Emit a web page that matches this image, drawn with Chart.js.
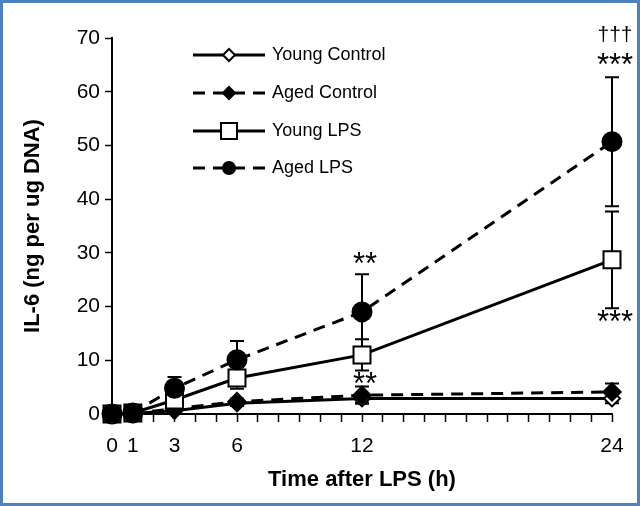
<!DOCTYPE html>
<html>
<head>
<meta charset="utf-8">
<script src="https://cdn.jsdelivr.net/npm/chart.js@4"></script>
<style>
  html, body { margin: 0; padding: 0; background: #fff; }
  #wrap { width: 640px; height: 506px; position: relative; }
</style>
</head>
<body>
<div id="wrap"><canvas id="il6" width="640" height="506"></canvas></div>
<script>
// time points (h)
const hours = [0, 1, 3, 6, 12, 24];
const tickHours = [0, 1, 3, 6, 12, 24];

// means, ng per ug DNA
const youngControl = [0, 0.1, 0.6, 2.0, 2.9, 2.9];
const agedControl = [0, 0.1, 1.0, 2.3, 3.5, 4.1];
const youngLPS = [0, 0.2, 2.6, 6.7, 11.0, 28.7];
const agedLPS = [0, 0.2, 4.8, 10.1, 19.0, 50.7];

// error (SEM)
const youngControlErr = [0, 0, 0.3, 0.5, 0.8, 0.9];
const agedControlErr = [0, 0, 0.4, 0.6, 1.6, 1.6];
const youngLPSErr = [0, 0.1, 1.5, 2.0, 2.9, 9.0];
const agedLPSErr = [0, 0.1, 2.1, 3.5, 7.0, 12.0];

// significance marks: [hour, value, text]
const marks = [
  [24, 70.6, '\u2020\u2020\u2020'],
  [24, 66.4, '***'],
  [12, 29.4, '**'],
  [12, 7.0, '**'],
  [24, 18.6, '***']
];

const toXY = (vals) => vals.map((v, i) => ({ x: hours[i], y: v }));

const errorBars = {
  id: 'errorBars',
  beforeDatasetsDraw(chart) {
    const { ctx, scales: { x, y } } = chart;
    ctx.save();
    ctx.strokeStyle = '#000';
    ctx.lineWidth = 2;
    chart.data.datasets.forEach((ds) => {
      ds.err.forEach((e, i) => {
        if (!e) return;
        const px = x.getPixelForValue(hours[i]);
        const top = y.getPixelForValue(ds.data[i].y + e);
        const bot = y.getPixelForValue(ds.data[i].y - e);
        ctx.beginPath();
        ctx.moveTo(px, top); ctx.lineTo(px, bot);
        ctx.moveTo(px - 7, top); ctx.lineTo(px + 7, top);
        ctx.moveTo(px - 7, bot); ctx.lineTo(px + 7, bot);
        ctx.stroke();
      });
    });
    ctx.restore();
  }
};

function drawMarker(ctx, style, cx, cy, r) {
  if (style === 'rect') {
    ctx.rect(cx - r, cy - r, 2 * r, 2 * r);
  } else if (style === 'rectRot') {
    ctx.moveTo(cx, cy - r); ctx.lineTo(cx + r, cy);
    ctx.lineTo(cx, cy + r); ctx.lineTo(cx - r, cy); ctx.closePath();
  } else {
    ctx.arc(cx, cy, r, 0, Math.PI * 2);
  }
}

const extras = {
  id: 'extras',
  afterDraw(chart) {
    const { ctx, scales: { x, y } } = chart;
    ctx.save();
    // significance marks
    ctx.fillStyle = '#000';
    ctx.textAlign = 'center';
    marks.forEach(([h, v, t]) => {
      const px = x.getPixelForValue(h) + 3;
      const py = y.getPixelForValue(v);
      if (t.startsWith('*')) {
        ctx.font = '31px "Liberation Sans", Arial, sans-serif';
        ctx.textBaseline = 'alphabetic';
        ctx.fillText(t, px, py + 18);
      } else {
        ctx.font = '21px "Liberation Sans", Arial, sans-serif';
        ctx.textBaseline = 'middle';
        ctx.fillText(t, px, py);
      }
    });

    // legend
    const rows = [55, 93, 131, 168];
    ctx.textAlign = 'left';
    ctx.textBaseline = 'middle';
    ctx.font = '18px "Liberation Sans", Arial, sans-serif';
    const legendOrder = [3, 2, 1, 0];
    legendOrder.forEach((di, r) => {
      const ds = chart.data.datasets[di];
      const ly = rows[r];
      ctx.strokeStyle = '#000';
      ctx.lineWidth = 3;
      ctx.setLineDash(ds.borderDash || []);
      ctx.beginPath();
      ctx.moveTo(193, ly); ctx.lineTo(265, ly);
      ctx.stroke();
      ctx.setLineDash([]);
      ctx.fillStyle = ds.pointBackgroundColor;
      ctx.lineWidth = 2;
      ctx.beginPath();
      drawMarker(ctx, ds.pointStyle, 229, ly, ds.pointStyle === 'rect' ? 8 : 6);
      ctx.fill(); ctx.stroke();
      ctx.fillStyle = '#000';
      ctx.fillText(ds.label, 272, ly);
    });

    // frame
    ctx.strokeStyle = '#4f81bd';
    ctx.lineWidth = 3;
    ctx.strokeRect(1.5, 1.5, chart.width - 3, chart.height - 3);
    ctx.restore();
  }
};

const font = '"Liberation Sans", Arial, sans-serif';

new Chart(document.getElementById('il6'), {
  type: 'line',
  data: {
    datasets: [
      {
        label: 'Aged LPS', data: toXY(agedLPS), err: agedLPSErr, order: 1, clip: false,
        borderColor: '#000', borderWidth: 3, borderDash: [12, 8],
        pointStyle: 'circle', pointRadius: 9, pointBackgroundColor: '#000', pointBorderColor: '#000'
      },
      {
        label: 'Young LPS', data: toXY(youngLPS), err: youngLPSErr, order: 2, clip: false,
        borderColor: '#000', borderWidth: 3,
        pointStyle: 'rect', pointRadius: 12, pointBackgroundColor: '#fff', pointBorderColor: '#000', pointBorderWidth: 2
      },
      {
        label: 'Aged Control', data: toXY(agedControl), err: agedControlErr, order: 3, clip: false,
        borderColor: '#000', borderWidth: 3, borderDash: [12, 8],
        pointStyle: 'rectRot', pointRadius: 8, pointBackgroundColor: '#000', pointBorderColor: '#000'
      },
      {
        label: 'Young Control', data: toXY(youngControl), err: youngControlErr, order: 4, clip: false,
        borderColor: '#000', borderWidth: 3,
        pointStyle: 'rectRot', pointRadius: 8, pointBackgroundColor: '#fff', pointBorderColor: '#000', pointBorderWidth: 2
      }
    ]
  },
  options: {
    responsive: false,
    animation: false,
    devicePixelRatio: 1,
    layout: { padding: { left: 0, top: 38, right: 28, bottom: 0 } },
    elements: { line: { tension: 0 } },
    plugins: { legend: { display: false }, tooltip: { enabled: false } },
    scales: {
      x: {
        type: 'linear', min: 0, max: 24,
        afterFit(s) { s.height = 92; },
        border: { color: '#000', width: 2 },
        grid: { drawOnChartArea: false, color: '#000', tickLength: 8, tickWidth: 1.5 },
        ticks: {
          stepSize: 1, autoSkip: false, maxRotation: 0, padding: 12,
          color: '#000', font: { family: font, size: 21 },
          callback: (v) => tickHours.includes(v) ? String(v) : ''
        },
        title: {
          display: true, text: 'Time after LPS (h)', color: '#000',
          font: { family: font, size: 22, weight: 'bold' }, padding: { top: 0, bottom: 13 }
        }
      },
      y: {
        min: 0, max: 70,
        afterFit(s) { s.width = 112; },
        border: { color: '#000', width: 2 },
        grid: { drawOnChartArea: false, color: '#000', tickLength: 7, tickWidth: 1.5 },
        ticks: { stepSize: 10, padding: 5, color: '#000', font: { family: font, size: 21 } },
        title: {
          display: true, text: 'IL-6 (ng per ug DNA)', color: '#000',
          font: { family: font, size: 22, weight: 'bold' }, padding: { top: 20, bottom: 0 }
        }
      }
    }
  },
  plugins: [errorBars, extras]
});
</script>
</body>
</html>
